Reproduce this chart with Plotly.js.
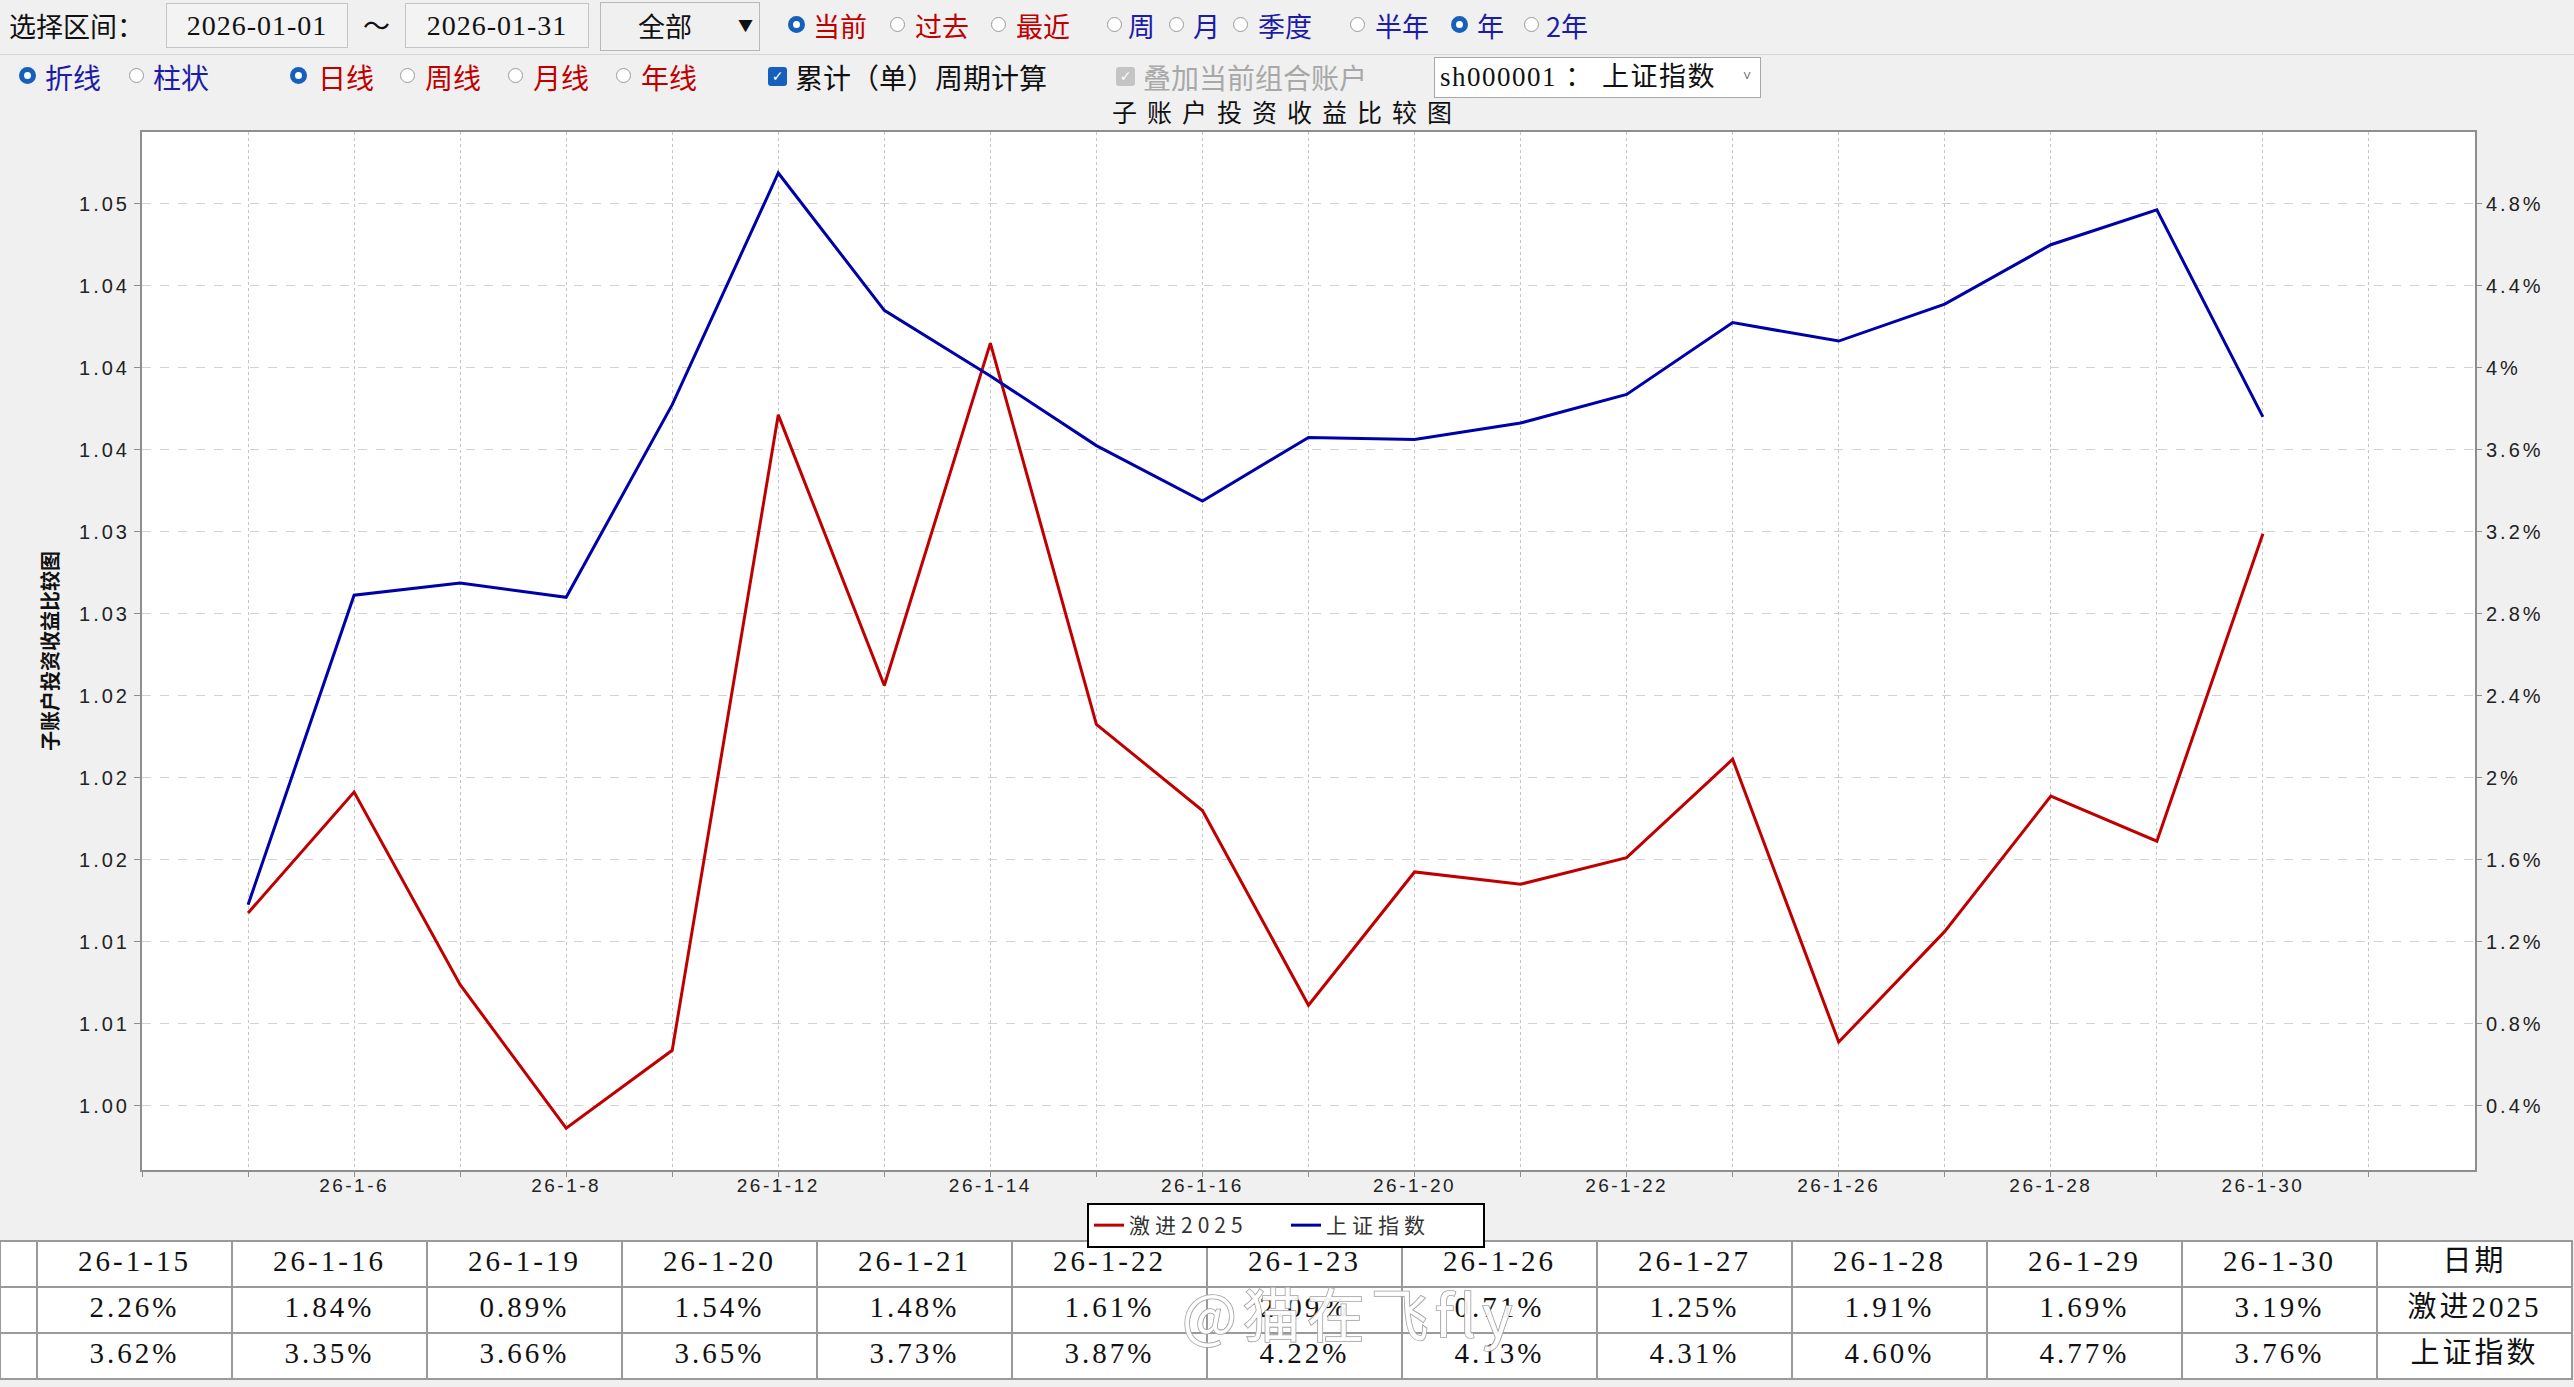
<!DOCTYPE html>
<html>
<head>
<meta charset="utf-8">
<script src="https://cdn.plot.ly/plotly-3.0.1.min.js"></script>
<style>
  html, body { margin: 0; padding: 0; }
  body { background: #f0f0f0; width: 2574px; height: 1387px; overflow: hidden; position: relative;
         font-family: "Noto Sans CJK SC", sans-serif; }
  #chart { position: absolute; left: 0; top: 0; width: 2574px; height: 1387px; }
  #ctrl { position: absolute; left: 0; top: 0; width: 2574px; height: 100px; z-index: 5; pointer-events: none; }
  .t { position: absolute; white-space: nowrap; line-height: 1; font-size: 27px; }
  .red { color: #c00000; }
  .blue { color: #1c1ca8; }
  .blk { color: #111; }
  .gry { color: #a8a8a8; }
  .rd { position: absolute; width: 13px; height: 13px; border: 1.5px solid #9a9a9a; border-radius: 50%; background: #fff; }
  .rs { position: absolute; width: 7px; height: 7px; border: 5px solid #1560bd; border-radius: 50%; background: #fff; }
  .box { position: absolute; border: 1px solid #c4c4c4; background: #f3f3f3; box-sizing: border-box;
         font-family: "Liberation Serif", serif; font-size: 28px; color: #111; text-align: center; letter-spacing: 1px; }
  .chk { position: absolute; width: 19px; height: 19px; border-radius: 3px; color: #fff; font-size: 14px;
         line-height: 19px; text-align: center; font-family: "DejaVu Sans", sans-serif; }
  .xtick text { letter-spacing: 2.5px; }
  .ytick text, .y2tick text { letter-spacing: 3px; }
  .legendtext { letter-spacing: 5px; }
  .gtitle { letter-spacing: 10px; }
  .cell-text, .cellText { letter-spacing: 3px; }
  .annotation-text { stroke: #a0a0a0; stroke-width: 1.6px; paint-order: stroke; letter-spacing: 6px; }
</style>
</head>
<body>
<div id="chart"></div>
<div id="ctrl">
  <!-- row 1 -->
  <div class="t blk" style="left:9px;top:12px;font-size:27px;">选择区间：</div>
  <div class="box" style="left:166px;top:3px;width:182px;height:45px;line-height:43px;">2026-01-01</div>
  <div class="t blk" style="left:363px;top:11px;font-size:27px;">～</div>
  <div class="box" style="left:405px;top:3px;width:184px;height:45px;line-height:43px;">2026-01-31</div>
  <div class="box" style="left:600px;top:2px;width:160px;height:49px;background:#f0f0f0;border-color:#b8b8b8;"></div>
  <div class="t blk" style="left:638px;top:12px;font-size:27px;">全部</div>
  <div class="t blk" style="left:738px;top:17px;font-size:15px;">▼</div>

  <div class="rs" style="left:788px;top:16px;"></div><div class="t red" style="left:813px;top:12px;">当前</div>
  <div class="rd" style="left:890px;top:17px;"></div><div class="t red" style="left:915px;top:12px;">过去</div>
  <div class="rd" style="left:991px;top:17px;"></div><div class="t red" style="left:1016px;top:12px;">最近</div>
  <div class="rd" style="left:1107px;top:17px;"></div><div class="t blue" style="left:1128px;top:12px;">周</div>
  <div class="rd" style="left:1169px;top:17px;"></div><div class="t blue" style="left:1193px;top:12px;">月</div>
  <div class="rd" style="left:1233px;top:17px;"></div><div class="t blue" style="left:1258px;top:12px;">季度</div>
  <div class="rd" style="left:1350px;top:17px;"></div><div class="t blue" style="left:1375px;top:12px;">半年</div>
  <div class="rs" style="left:1451px;top:16px;"></div><div class="t blue" style="left:1477px;top:12px;">年</div>
  <div class="rd" style="left:1524px;top:17px;"></div><div class="t blue" style="left:1546px;top:12px;">2年</div>

  <div style="position:absolute;left:0;top:54px;width:2574px;height:1px;background:#d6d6d6;"></div>

  <!-- row 2 -->
  <div class="rs" style="left:19px;top:67px;"></div><div class="t blue" style="left:45px;top:63px;font-size:28px;">折线</div>
  <div class="rd" style="left:129px;top:68px;"></div><div class="t blue" style="left:153px;top:63px;font-size:28px;">柱状</div>
  <div class="rs" style="left:290px;top:67px;"></div><div class="t red" style="left:318px;top:63px;font-size:28px;">日线</div>
  <div class="rd" style="left:400px;top:68px;"></div><div class="t red" style="left:425px;top:63px;font-size:28px;">周线</div>
  <div class="rd" style="left:508px;top:68px;"></div><div class="t red" style="left:533px;top:63px;font-size:28px;">月线</div>
  <div class="rd" style="left:616px;top:68px;"></div><div class="t red" style="left:641px;top:63px;font-size:28px;">年线</div>

  <div class="chk" style="left:768px;top:67px;background:#1560bd;">✓</div>
  <div class="t blk" style="left:795px;top:63px;font-size:28px;">累计（单）周期计算</div>
  <div class="chk" style="left:1116px;top:67px;background:#c4c4c4;">✓</div>
  <div class="t gry" style="left:1143px;top:63px;font-size:28px;">叠加当前组合账户</div>

  <div class="box" style="left:1434px;top:57px;width:327px;height:41px;background:#fff;border-color:#a8a8a8;"></div>
  <div class="t blk" style="left:1440px;top:64px;font-family:'Liberation Serif','Noto Sans CJK SC',serif;font-size:27px;letter-spacing:1.5px;">sh000001 ： 上证指数</div>
  <div class="t" style="left:1743px;top:68px;font-size:14px;color:#777;">˅</div>
</div>

<script>
// ---------- data ----------
const dates = ['26-1-5','26-1-6','26-1-7','26-1-8','26-1-9','26-1-12','26-1-13','26-1-14','26-1-15','26-1-16',
               '26-1-19','26-1-20','26-1-21','26-1-22','26-1-23','26-1-26','26-1-27','26-1-28','26-1-29','26-1-30'];
const aggressive2025 = [1.34, 1.93, 0.99, 0.29, 0.67, 3.77, 2.45, 4.12, 2.26, 1.84,
                        0.89, 1.54, 1.48, 1.61, 2.09, 0.71, 1.25, 1.91, 1.69, 3.19];
const shIndex = [1.38, 2.89, 2.95, 2.88, 3.82, 4.95, 4.28, 3.96, 3.62, 3.35,
                 3.66, 3.65, 3.73, 3.87, 4.22, 4.13, 4.31, 4.60, 4.77, 3.76];
const seriesNames = ['激进2025', '上证指数'];
const rightTickVals = [0.4, 0.8, 1.2, 1.6, 2.0, 2.4, 2.8, 3.2, 3.6, 4.0, 4.4, 4.8];
const rightTickText = ['0.4%','0.8%','1.2%','1.6%','2%','2.4%','2.8%','3.2%','3.6%','4%','4.4%','4.8%'];
const leftTickVals = [1.004, 1.008, 1.012, 1.016, 1.020, 1.024, 1.028, 1.032, 1.036, 1.040, 1.044, 1.048];
const leftTickText = ['1.00','1.01','1.01','1.02','1.02','1.02','1.03','1.03','1.04','1.04','1.04','1.05'];
const chartTitle = '子账户投资收益比较图';
const tableFirstIndex = 8;      // table shows dates from 26-1-15 onward
const tableRowLabelHeader = '日期';

// ---------- derived ----------
const W = 2574, H = 1387;
const idx = dates.map((d, i) => i);
const xTickVals = [];
for (let i = -1; i <= dates.length; i++) xTickVals.push(i);
const xTickText = xTickVals.map(i => (i >= 0 && i < dates.length && i % 2 === 1) ? dates[i] : '');
const yMin = 0.086, yMax = 5.15;

const tDates = dates.slice(tableFirstIndex);
const tRed = aggressive2025.slice(tableFirstIndex).map(v => v.toFixed(2) + '%');
const tBlue = shIndex.slice(tableFirstIndex).map(v => v.toFixed(2) + '%');
const headerVals = [''].concat(tDates).concat([tableRowLabelHeader]);
const cellCols = [['', '']];
tDates.forEach((d, i) => cellCols.push([tRed[i], tBlue[i]]));
cellCols.push(seriesNames.slice());
const colW = [37];
for (let i = 0; i < tDates.length + 1; i++) colW.push(195);

const traces = [
  { type: 'scatter', mode: 'lines', x: idx, y: aggressive2025, customdata: dates, name: seriesNames[0],
    line: { color: '#c00000', width: 3 }, xaxis: 'x', yaxis: 'y',
    hovertemplate: '%{customdata}: %{y:.2f}%<extra>' + seriesNames[0] + '</extra>' },
  { type: 'scatter', mode: 'lines', x: idx, y: shIndex, customdata: dates, name: seriesNames[1],
    line: { color: '#0000aa', width: 3 }, xaxis: 'x', yaxis: 'y',
    hovertemplate: '%{customdata}: %{y:.2f}%<extra>' + seriesNames[1] + '</extra>' },
  // ratio view of the same series on the left axis (kept transparent so the left scale is drawn)
  { type: 'scatter', mode: 'lines', x: idx, y: aggressive2025.map(v => 1 + v / 100), xaxis: 'x', yaxis: 'y2',
    line: { color: 'rgba(0,0,0,0)', width: 1 }, showlegend: false, hoverinfo: 'skip' },
  { type: 'table', domain: { x: [0, 2572 / W], y: [1 - 1384 / H, 1 - 1241 / H] },
    columnwidth: colW,
    header: { values: headerVals, height: 46, align: 'center',
              fill: { color: '#ffffff' }, line: { color: '#9a9a9a', width: 1.5 },
              font: { family: 'Liberation Serif, Noto Sans CJK SC, serif', size: 29, color: '#111' } },
    cells: { values: cellCols, height: 46, align: 'center',
             fill: { color: '#ffffff' }, line: { color: '#9a9a9a', width: 1.5 },
             font: { family: 'Liberation Serif, Noto Sans CJK SC, serif', size: 29, color: '#111' } } }
];

const axisLine = '#8e8e8e';
const layout = {
  width: W, height: H,
  margin: { l: 0, r: 0, t: 0, b: 0, autoexpand: false },
  paper_bgcolor: '#f0f0f0',
  plot_bgcolor: '#ffffff',
  showlegend: true,
  title: { text: chartTitle, xref: 'paper', yref: 'paper', x: 0.5, y: 1 - 113 / H,
           xanchor: 'center', yanchor: 'middle',
           font: { family: 'Noto Sans CJK SC, sans-serif', size: 25, color: '#111' } },
  xaxis: {
    domain: [142 / W, 2475 / W], range: [-1, dates.length + 1], anchor: 'y',
    tickmode: 'array', tickvals: xTickVals, ticktext: xTickText,
    showgrid: true, gridcolor: '#c4c4c4', griddash: 'dot', gridwidth: 1,
    showline: true, linecolor: axisLine, linewidth: 2, mirror: true,
    ticks: 'outside', ticklen: 5, tickcolor: axisLine, zeroline: false,
    ticklabelstandoff: -8,
    tickfont: { family: 'Liberation Sans, Arial, sans-serif', size: 19, color: '#222' }
  },
  yaxis: {
    domain: [1 - 1170 / H, 1 - 132 / H], range: [yMin, yMax], side: 'right', anchor: 'x',
    tickmode: 'array', tickvals: rightTickVals, ticktext: rightTickText,
    showgrid: true, gridcolor: '#d2d2d2', griddash: 'dash', gridwidth: 1,
    showline: true, linecolor: axisLine, linewidth: 2,
    ticks: 'outside', ticklen: 5, tickcolor: axisLine, zeroline: false,
    tickfont: { family: 'Liberation Sans, Arial, sans-serif', size: 20, color: '#222' }
  },
  yaxis2: {
    overlaying: 'y', side: 'left', anchor: 'x',
    range: [1 + yMin / 100, 1 + yMax / 100],
    tickmode: 'array', tickvals: leftTickVals, ticktext: leftTickText,
    showgrid: false, showline: true, linecolor: axisLine, linewidth: 2,
    ticks: 'outside', ticklen: 6, tickcolor: axisLine, zeroline: false,
    tickfont: { family: 'Liberation Sans, Arial, sans-serif', size: 20, color: '#222' },
    title: { text: chartTitle, standoff: 15,
             font: { family: 'Noto Sans CJK SC, sans-serif', size: 20, color: '#111', weight: 'bold' } }
  },
  legend: {
    orientation: 'h', xref: 'paper', yref: 'paper',
    x: 1286 / W, xanchor: 'center', y: 1 - 1203 / H, yanchor: 'top',
    bgcolor: '#ffffff', bordercolor: '#000000', borderwidth: 2,
    entrywidth: 152, entrywidthmode: 'pixels',
    font: { family: 'Noto Sans CJK SC, sans-serif', size: 21, color: '#333' },
    itemclick: false, itemdoubleclick: false
  },
  annotations: [{
    text: '@猫在飞fly', xref: 'paper', yref: 'paper', x: 1350 / W, y: 1 - 1312 / H,
    xanchor: 'center', yanchor: 'middle', showarrow: false,
    font: { family: 'Noto Sans CJK SC, sans-serif', size: 58, color: 'rgba(255,255,255,0.92)' }
  }]
};

Plotly.newPlot('chart', traces, layout, { displayModeBar: false, responsive: false });
</script>
</body>
</html>
